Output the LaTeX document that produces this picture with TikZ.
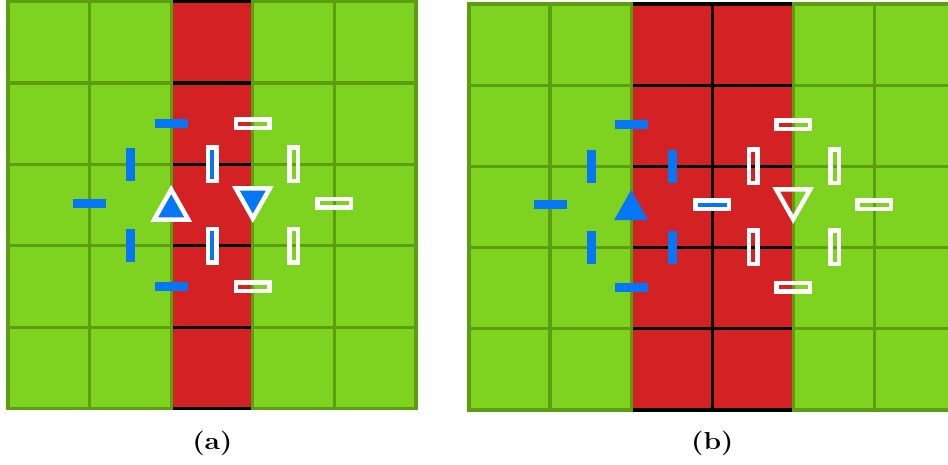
\documentclass[tikz,border=0pt]{standalone}
\usetikzlibrary{calc}

\definecolor{cellgreen}{RGB}{126,211,33}
\definecolor{gridgreen}{RGB}{92,158,16}
\definecolor{cellred}{RGB}{212,33,36}
\definecolor{markblue}{RGB}{4,118,246}

\tikzset{
  gridline/.style={draw=gridgreen, line width=3.2pt, line cap=rect},
  redline/.style={draw=black, line width=3.2pt, line cap=rect},
  hbar/.style={rectangle, inner sep=0pt, minimum width=33pt, minimum height=9pt, fill=markblue},
  vbar/.style={rectangle, inner sep=0pt, minimum width=9pt, minimum height=33pt, fill=markblue},
  hring/.style={rectangle, inner sep=0pt, minimum width=33.5pt, minimum height=8.5pt, draw=white, line width=4.5pt},
  vring/.style={rectangle, inner sep=0pt, minimum width=8.5pt, minimum height=33.5pt, draw=white, line width=4.5pt},
  trisolid/.style={fill=markblue},
  tririmmed/.style={fill=markblue, draw=white, line width=4.5pt, line join=miter},
  trihollow/.style={draw=white, line width=4.5pt, line join=miter},
  caption/.style={font=\bfseries\fontsize{24.5}{28}\selectfont, anchor=base, inner sep=0pt}
}
\newcommand{\widecap}[1]{\scalebox{1.15}[1]{#1}}

\begin{document}
\begin{tikzpicture}[x=1pt,y=-1pt]
\useasboundingbox (0,0) rectangle (948,464);

% ---------- panel (a): 5x5 grid with one red column ----------
\fill[cellgreen] (8,1.5) rectangle (416,408.5);
\fill[cellred] (171.2,1.5) rectangle (252.8,408.5);
\foreach \y in {1.5,82.9,164.3,245.7,327.1,408.5} {
  \draw[redline] (171.2,\y) -- (252.8,\y);
  \draw[gridline] (8,\y) -- (171.2,\y) (252.8,\y) -- (416,\y);
}
\foreach \x in {8,89.6,171.2,252.8,334.4,416}
  \draw[gridline] (\x,1.5) -- (\x,408.5);

% blue ring around the upward cell
\node[hbar] (a1t) at (171.2,123.5) {};
\node[hbar] (a1b) at (171.2,286.5) {};
\node[hbar] (a1l) at (89.4,203.4) {};
\node[vbar] (a1tl) at (130.6,164.3) {};
\node[vbar] (a1bl) at (130.6,245.7) {};
\node[vbar] (a1tr) at (212.2,164.3) {};
\node[vbar] (a1br) at (212.2,245.7) {};
% white ring around the downward cell
\node[hring] (a2t) at (252.8,123.5) {};
\node[hring] (a2b) at (252.8,286.5) {};
\node[hring] (a2r) at (334.2,203.2) {};
\node[vring] (a2tl) at (212.2,164.3) {};
\node[vring] (a2bl) at (212.2,245.7) {};
\node[vring] (a2tr) at (293.6,164.3) {};
\node[vring] (a2br) at (293.6,245.7) {};
% triangles
\coordinate (aup) at (171.2,204.5);
\coordinate (adn) at (252.8,203.4);
\path[tririmmed] ($(aup)+(-17,15)$) -- ($(aup)+(0,-15)$) -- ($(aup)+(17,15)$) -- cycle;
\path[tririmmed] ($(adn)+(-17,-15)$) -- ($(adn)+(0,15)$) -- ($(adn)+(17,-15)$) -- cycle;

\node[caption] (capa) at (212.3,449.5) {\widecap{(a)}};

% ---------- panel (b): grid with two red columns ----------
\fill[cellgreen] (469,4) rectangle (955.3,410);
\fill[cellred] (631.1,4) rectangle (793.2,410);
\foreach \y in {4,85.2,166.4,247.6,328.8,410} {
  \draw[redline] (631.1,\y) -- (793.2,\y);
  \draw[gridline] (469,\y) -- (631.1,\y) (793.2,\y) -- (955.3,\y);
}
\draw[redline] (712.15,4) -- (712.15,410);
\foreach \x in {469,550.05,631.1,793.2,874.25,955.3}
  \draw[gridline] (\x,4) -- (\x,410);

% blue ring around the upward cell
\node[hbar] (b1t) at (631.1,124.6) {};
\node[hbar] (b1b) at (631.1,287.2) {};
\node[hbar] (b1l) at (550,204.6) {};
\node[hbar] (b1r) at (712.15,204.8) {};
\node[vbar] (b1tl) at (591,166.2) {};
\node[vbar] (b1bl) at (591,247.3) {};
\node[vbar] (b1tr) at (672,166.2) {};
\node[vbar] (b1br) at (672,247.3) {};
% white ring around the downward cell
\node[hring] (b2t) at (793.2,124.7) {};
\node[hring] (b2b) at (793.2,287) {};
\node[hring] (b2r) at (874.2,204.7) {};
\node[hring] (b2l) at (712.15,204.8) {};
\node[vring] (b2tl) at (753,166) {};
\node[vring] (b2bl) at (753,247.3) {};
\node[vring] (b2tr) at (834.5,166) {};
\node[vring] (b2br) at (834.5,247.3) {};
% triangles
\coordinate (bup) at (631.1,205);
\coordinate (bdn) at (793.2,204.3);
\path[trisolid] ($(bup)+(-17,15)$) -- ($(bup)+(0,-15)$) -- ($(bup)+(17,15)$) -- cycle;
\path[trihollow] ($(bdn)+(-17,-15)$) -- ($(bdn)+(0,15)$) -- ($(bdn)+(17,-15)$) -- cycle;

\node[caption] (capb) at (712.3,449.5) {\widecap{(b)}};
\end{tikzpicture}
\end{document}
